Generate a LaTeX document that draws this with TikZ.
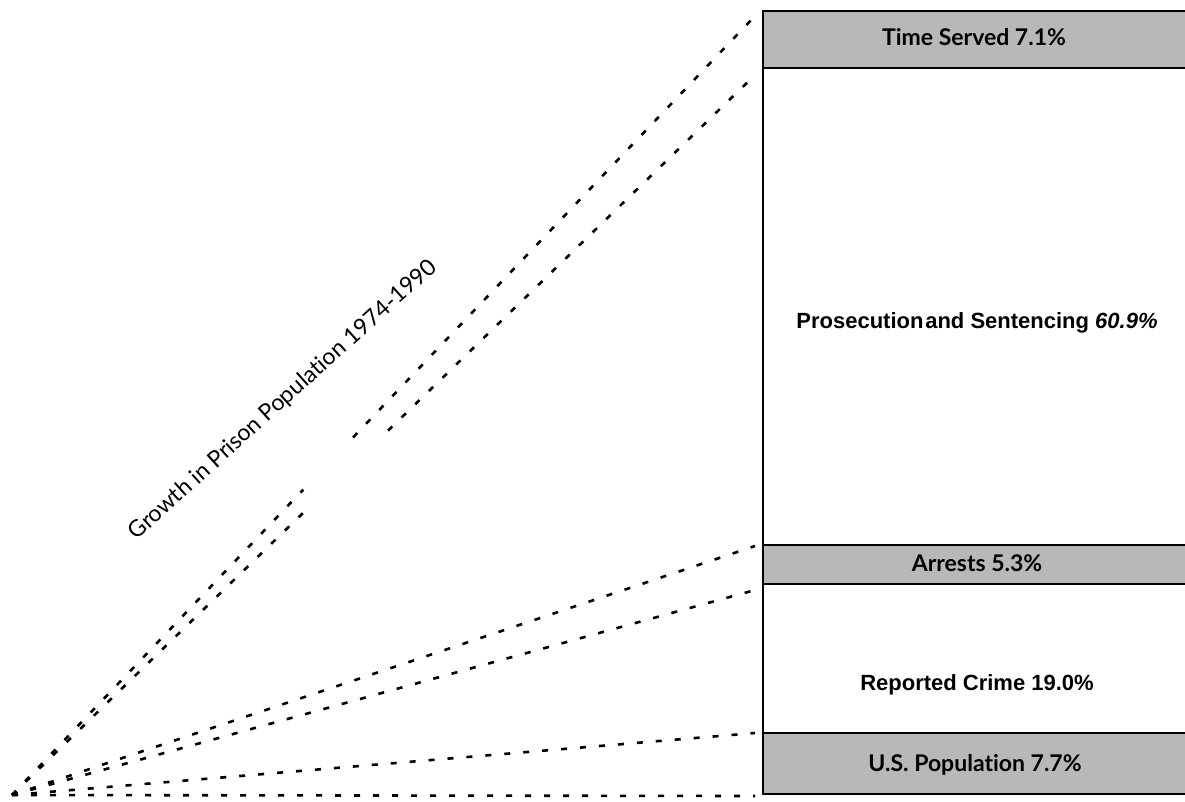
\documentclass[tikz,border=0pt]{standalone}
\usepackage{fontspec}
\setmainfont{Liberation Sans}
\newfontfamily\opt[Ligatures=NoCommon]{Lato}
\usetikzlibrary{calc}
\begin{document}
\begin{tikzpicture}[x=1pt,y=-1pt,
  band/.style={draw=black, line width=1.8pt, rectangle, inner sep=0pt, minimum width=430pt, anchor=north west},
  shaded/.style={band, fill=black!28},
  plain/.style={band, fill=white},
  ray/.style={line width=2.6pt, dash pattern=on 6pt off 13pt},
  optlab/.style={font=\opt\bfseries\fontsize{23}{23}\selectfont, inner sep=0pt},
  arlab/.style={font=\bfseries\fontsize{22}{22}\selectfont, inner sep=0pt},
]
\useasboundingbox (0,0) rectangle (1185,801);
% bands
\node[shaded, minimum height=57pt] (ts) at (762,10) {};
\node[plain, minimum height=477pt] (ps) at (762,67) {};
\node[shaded, minimum height=39pt] (ar) at (762,544) {};
\node[plain, minimum height=149pt] (rc) at (762,583) {};
\node[shaded, minimum height=61pt] (us) at (762,732) {};
% labels
\node[optlab] (tsl) at (974,37) {Time Served 7.1\%};
\node[arlab] (psl) at (977,323) {Prosecution\hspace{0.08em}and Sentencing \textit{60.9\%}};
\node[optlab] (arl) at (977,563) {Arrests 5.3\%};
\node[arlab] (rcl) at (977,685) {Reported Crime 19.0\%};
\node[optlab] (usl) at (975,765) {U.S. Population 7.7\%};
% title
\node[rotate=42, font=\opt\fontsize{23}{23}\selectfont, inner sep=0pt] (title) at (283,400) {Growth in Prison Population 1974-1990};
% rays
\coordinate (O) at (12,795);
\coordinate (e1) at (755,16);
\coordinate (e2) at (755,75);
\coordinate (e3) at (755,546);
\coordinate (e4) at (755,590);
\coordinate (e5) at (755,733);
\coordinate (e6) at (755,796);
\draw[ray] (O) -- ($(O)!0.392!(e1)$);
\draw[ray] ($(O)!0.459!(e1)$) -- (e1);
\draw[ray] (O) -- ($(O)!0.394!(e2)$);
\draw[ray] ($(O)!0.506!(e2)$) -- (e2);
\draw[ray] (O) -- (e3);
\draw[ray] (O) -- (e4);
\draw[ray] (O) -- (e5);
\draw[ray] (O) -- (e6);
\end{tikzpicture}
\end{document}
